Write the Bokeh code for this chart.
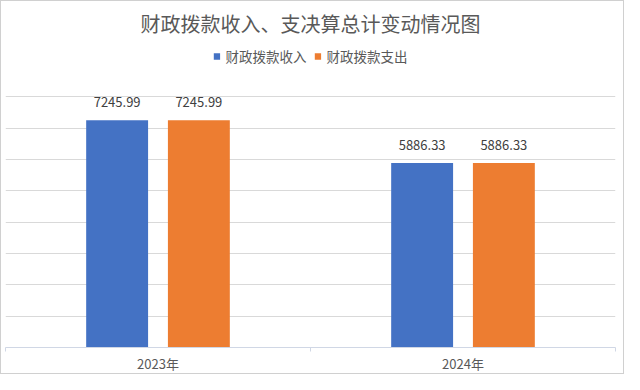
from bokeh.plotting import figure
from bokeh.models import (Range1d, ColumnDataSource, LabelSet, Label,
                          Legend, LegendItem, LinearAxis, FixedTicker, Grid)
from bokeh.transform import dodge
from bokeh.core.properties import value
from bokeh.embed import file_html
from bokeh.resources import INLINE

# ---- data ----
years = ["2023年", "2024年"]
income = [7245.99, 5886.33]
expense = [7245.99, 5886.33]
series_names = ["财政拨款收入", "财政拨款支出"]
y_grid_ticks = [1000, 2000, 3000, 4000, 5000, 6000, 7000, 8000]
title_text = "财政拨款收入、支决算总计变动情况图"

FONT = "Noto Sans CJK SC"
BLUE = "#4472C4"
ORANGE = "#ED7D31"
AXIS = "#D0D7E5"

W, H = 624, 374
BOTTOM = 25
frame_h = H - BOTTOM
y_max = 8000
y_top_px = 96  # pixel position of y_max from canvas top
y_end = frame_h / (frame_h - y_top_px) * y_max


def px_to_y(py):
    return y_end - py * y_end / frame_h


# category slots: slot i spans [i, i+1], centre at i + 0.5
centres = [i + 0.5 for i in range(len(years))]
src = ColumnDataSource(dict(
    xc=centres, income=income, expense=expense,
    income_lbl=[f"{v:.2f}" for v in income],
    expense_lbl=[f"{v:.2f}" for v in expense],
))

p = figure(width=W, height=H,
           x_range=Range1d(0, len(years)),
           y_range=Range1d(0, y_end),
           output_backend="svg", toolbar_location=None,
           x_axis_location=None, y_axis_location=None,
           title_location=None,
           min_border_left=4, min_border_right=10,
           min_border_top=0, min_border_bottom=BOTTOM)
for g in p.grid:
    g.grid_line_color = None
    g.visible = False
p.center = [r for r in p.center if not isinstance(r, Grid)]
p.outline_line_color = None
p.background_fill_color = "white"
p.border_fill_color = "white"
p.styles = {"border": "1px solid #D0D0D0"}

p.add_layout(Grid(dimension=1, ticker=FixedTicker(ticks=y_grid_ticks),
                  grid_line_color="#D9D9D9", grid_line_width=1))

off = 0.134
bw = 0.203
r1 = p.vbar(x=dodge("xc", -off), top="income", width=bw,
            source=src, fill_color=BLUE, line_color=None)
r2 = p.vbar(x=dodge("xc", off), top="expense", width=bw,
            source=src, fill_color=ORANGE, line_color=None)

for col, lbl, o in (("income", "income_lbl", -off), ("expense", "expense_lbl", off)):
    p.add_layout(LabelSet(x=dodge("xc", o), y=col, text=lbl,
                          source=src, text_align="center", text_baseline="middle",
                          y_offset=18, text_font_size="13px", text_color="#404040",
                          text_font=value(FONT)))

# x axis: labels at slot centres, boundary marks as minor ticks
xaxis = LinearAxis(ticker=FixedTicker(ticks=centres,
                                      minor_ticks=list(range(len(years) + 1))),
                   major_label_overrides={c: y for c, y in zip(centres, years)},
                   major_tick_line_color=None, major_tick_in=0, major_tick_out=0,
                   minor_tick_in=0, minor_tick_out=4, minor_tick_line_color=AXIS,
                   axis_line_color=AXIS,
                   major_label_standoff=2,
                   major_label_text_font_size="13px",
                   major_label_text_color="#595959",
                   major_label_text_font=FONT)
p.add_layout(xaxis, "below")

p.add_layout(Label(x=len(years) / 2, y=px_to_y(22), text=title_text,
                   text_align="center", text_baseline="middle",
                   text_font_size="20px", text_color="#595959", text_font=FONT))

legend = Legend(items=[LegendItem(label=series_names[0], renderers=[r1]),
                       LegendItem(label=series_names[1], renderers=[r2])],
                orientation="horizontal", location="top_center",
                glyph_width=8, glyph_height=8, label_standoff=5, spacing=7,
                padding=0, margin=45, label_height=20,
                label_text_font_size="13.5px", label_text_color="#595959",
                label_text_font=FONT,
                background_fill_alpha=0, border_line_color=None)
p.add_layout(legend)

open("out.html", "w").write(file_html(p, INLINE))
